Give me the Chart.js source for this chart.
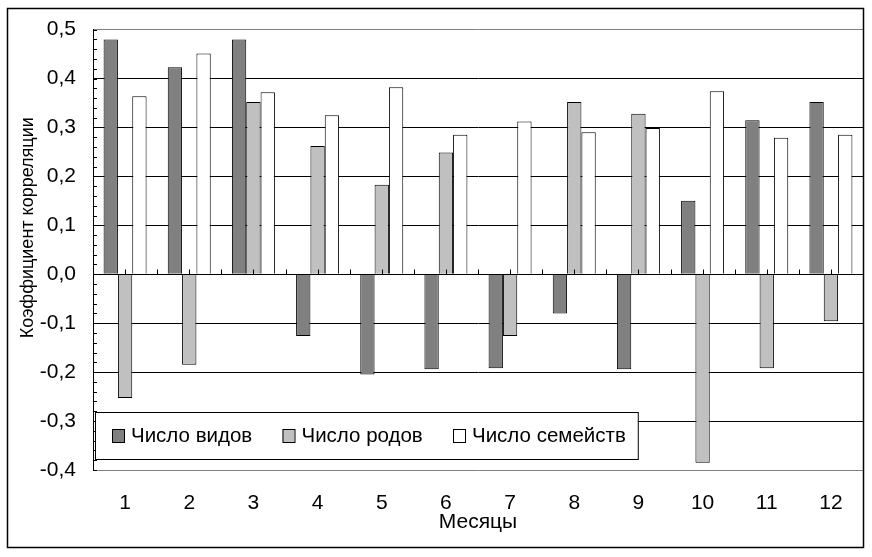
<!DOCTYPE html>
<html>
<head>
<meta charset="utf-8">
<script src="https://cdn.jsdelivr.net/npm/chart.js@4.4.0/dist/chart.umd.min.js"></script>
<style>
  body { margin: 0; background: #fff; }
</style>
</head>
<body>
<canvas id="myChart" width="872" height="557"></canvas>
<script>
// months on the x axis
const months = ['1', '2', '3', '4', '5', '6', '7', '8', '9', '10', '11', '12'];

// correlation coefficients
const chisloVidov = [0.48, 0.423, 0.48, -0.126, -0.205, -0.194, -0.192, -0.08, -0.194, 0.15, 0.315, 0.352];
const chisloRodov = [-0.253, -0.185, 0.352, 0.262, 0.183, 0.249, -0.126, 0.352, 0.328, -0.385, -0.192, -0.096];
const chisloSemeistv = [0.364, 0.451, 0.372, 0.325, 0.382, 0.285, 0.312, 0.29, 0.299, 0.374, 0.279, 0.285];

const seriesNames = ['Число видов', 'Число родов', 'Число семейств'];
const yTitle = 'Коэффициент корреляции';
const xTitle = 'Месяцы';

const FONT = '"Liberation Sans", Arial, sans-serif';
Chart.defaults.font.family = FONT;
Chart.defaults.color = '#000';

function fmt(v) {
    return (Math.round(v * 10) / 10).toFixed(1).replace('.', ',');
}

// zero line, small tick marks and the y-axis minor ticks
const axisExtras = {
    id: 'axisExtras',
    afterDatasetsDraw(chart) {
        const ctx = chart.ctx;
        const x = chart.scales.x;
        const y = chart.scales.y;
        const area = chart.chartArea;
        const y0 = Math.round(y.getPixelForValue(0)) + 0.5;
        ctx.save();
        ctx.strokeStyle = '#000';
        ctx.lineWidth = 1;
        ctx.beginPath();
        ctx.moveTo(area.left, y0);
        ctx.lineTo(area.right, y0);
        for (let i = 0; i <= months.length * 2; i++) {
            const px = Math.round(x.getPixelForValue(i / 2 - 0.5)) + 0.5;
            ctx.moveTo(px, y0);
            ctx.lineTo(px, y0 - 5);
        }
        for (let v = -0.4; v <= 0.5001; v += 0.02) {
            const py = Math.round(y.getPixelForValue(v)) + 0.5;
            ctx.moveTo(area.left, py);
            ctx.lineTo(area.left + 4, py);
        }
        ctx.stroke();
        ctx.restore();
    }
};

// legend box sitting inside the plot, like the original
const boxLegend = {
    id: 'boxLegend',
    afterDatasetsDraw(chart) {
        const ctx = chart.ctx;
        const area = chart.chartArea;
        const left = area.left + 2;
        const top = area.bottom - 58;
        const h = 47;
        const step = 170.5;
        ctx.save();
        ctx.font = '20.5px ' + FONT;
        const dsets = chart.data.datasets;
        const xs = dsets.map((ds, i) => left + 17 + i * step);
        const lastEnd = xs[dsets.length - 1] + 19 + ctx.measureText(dsets[dsets.length - 1].label).width;
        const w = lastEnd + 12 - left;
        ctx.fillStyle = '#fff';
        ctx.fillRect(left, top, w, h);
        ctx.strokeStyle = '#000';
        ctx.lineWidth = 1;
        ctx.strokeRect(left + 0.5, top + 0.5, w, h);
        dsets.forEach((ds, i) => {
            ctx.fillStyle = ds.backgroundColor;
            ctx.fillRect(xs[i], top + 17, 12, 13);
            ctx.strokeStyle = '#000';
            ctx.strokeRect(xs[i] + 0.5, top + 17.5, 12, 13);
            ctx.fillStyle = '#000';
            ctx.textBaseline = 'middle';
            ctx.fillText(ds.label, xs[i] + 19, top + 24);
        });
        ctx.restore();
    },
    afterDraw(chart) {
        const ctx = chart.ctx;
        const area = chart.chartArea;
        ctx.save();
        // outer frame
        ctx.strokeStyle = '#000';
        ctx.lineWidth = 1.5;
        ctx.strokeRect(7.5, 8.5, 856, 539);
        // y-axis title
        ctx.translate(28, (area.top + area.bottom) / 2 - 22);
        ctx.rotate(-Math.PI / 2);
        ctx.font = '18px ' + FONT;
        ctx.fillStyle = '#000';
        ctx.textAlign = 'center';
        ctx.textBaseline = 'middle';
        ctx.fillText(yTitle, 0, 0);
        ctx.restore();
    }
};

const ctx = document.getElementById('myChart').getContext('2d');

const myChart = new Chart(ctx, {
    type: 'bar',
    data: {
        labels: months,
        datasets: [
            { label: seriesNames[0], data: chisloVidov, backgroundColor: '#808080' },
            { label: seriesNames[1], data: chisloRodov, backgroundColor: '#c0c0c0' },
            { label: seriesNames[2], data: chisloSemeistv, backgroundColor: '#ffffff' }
        ]
    },
    options: {
        responsive: false,
        animation: false,
        layout: { padding: { left: 0, right: 9, top: 26, bottom: 0 } },
        datasets: {
            bar: {
                borderColor: '#000',
                borderWidth: 1,
                categoryPercentage: 0.67,
                barPercentage: 1.0
            }
        },
        plugins: {
            legend: { display: false },
            tooltip: { enabled: false }
        },
        scales: {
            x: {
                grid: { display: false },
                border: { display: false },
                ticks: { font: { size: 21 }, padding: 13, maxRotation: 0 },
                title: {
                    display: true,
                    text: xTitle,
                    font: { size: 21 },
                    padding: { top: 0, bottom: 22 }
                },
                afterFit(scale) { scale.height = 87; }
            },
            y: {
                min: -0.4,
                max: 0.5,
                ticks: {
                    stepSize: 0.1,
                    font: { size: 21 },
                    padding: 17,
                    callback: v => fmt(v)
                },
                grid: {
                    drawTicks: false,
                    color: c => (c.tick && (Math.abs(c.tick.value - 0.5) < 1e-6 || Math.abs(c.tick.value + 0.4) < 1e-6)) ? '#808080' : '#000',
                    lineWidth: 1
                },
                border: { display: true, color: '#000', width: 1 },
                afterFit(scale) { scale.width = 93; }
            }
        }
    },
    plugins: [axisExtras, boxLegend]
});
</script>
</body>
</html>
